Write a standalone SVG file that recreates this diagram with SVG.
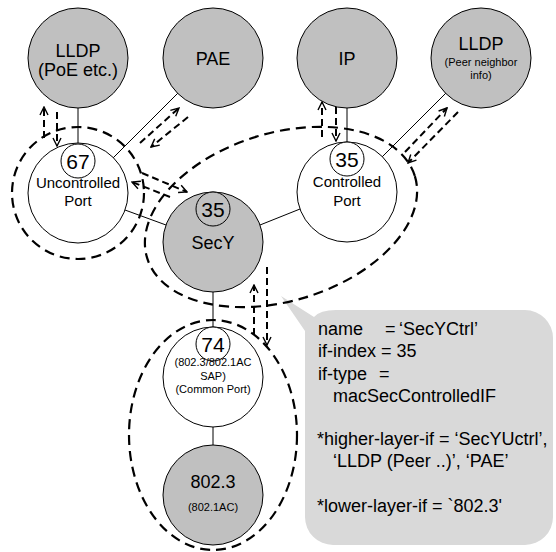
<svg xmlns="http://www.w3.org/2000/svg" width="556" height="552" viewBox="0 0 556 552">
<style>
.n{fill:#c0c0c0;stroke:#000;stroke-width:1}
.w{fill:#fff;stroke:#000;stroke-width:1}
.t{font-family:"Liberation Sans",Arial,sans-serif;fill:#000;text-anchor:middle}
.c{font-family:"Liberation Sans",Arial,sans-serif;fill:#000;font-size:18px}
.ln{stroke:#000;stroke-width:1;fill:none}
.de{stroke:#000;stroke-width:2.2;fill:none;stroke-dasharray:10 6}
.da{stroke:#000;stroke-width:2;fill:none;stroke-dasharray:7 4;marker-end:url(#ah)}
</style>
<defs>
<marker id="ah" viewBox="0 0 10 10" refX="9" refY="5" markerWidth="10" markerHeight="10" markerUnits="userSpaceOnUse" orient="auto">
<path d="M1,1 L9,5 L1,9" fill="none" stroke="#000" stroke-width="1.4"/>
</marker>
</defs>
<rect width="556" height="552" fill="#fff"/>
<g id="callout">
<path d="M281,296 L314,317 Q320,310 336,310 L525,310 A28,28 0 0 1 553,338 L553,517 A28,28 0 0 1 525,545 L333,545 A28,28 0 0 1 305,517 L305,331 Z" fill="#d9d9d9"/>
<text class="c" y="335"><tspan x="318">name</tspan><tspan x="385">=</tspan><tspan x="399">‘SecYCtrl’</tspan></text>
<text class="c" x="318" y="357">if-index = 35</text>
<text class="c" y="380"><tspan x="318">if-type</tspan><tspan x="379">=</tspan></text>
<text class="c" x="333" y="402">macSecControlledIF</text>
<text class="c" x="317" y="445">*higher-layer-if = ‘SecYUctrl’,</text>
<text class="c" x="333" y="467">‘LLDP (Peer ..)’, ‘PAE’</text>
<text class="c" x="317" y="512">*lower-layer-if = `802.3'</text>
</g>
<g id="connectors">
<line class="ln" x1="78" y1="108" x2="78" y2="144"/>
<line class="ln" x1="178" y1="93" x2="113" y2="158"/>
<line class="ln" x1="347" y1="108" x2="347" y2="142"/>
<line class="ln" x1="446" y1="93" x2="382" y2="157"/>
<line class="ln" x1="125" y1="210" x2="166" y2="225"/>
<line class="ln" x1="260" y1="225" x2="300" y2="209"/>
<line class="ln" x1="213" y1="292" x2="213" y2="327"/>
<line class="ln" x1="213" y1="427" x2="213" y2="445"/>
<ellipse class="de" cx="78" cy="193" rx="66" ry="66"/>
<ellipse class="de" cx="281" cy="217" rx="140" ry="84" transform="rotate(-17 281 217)"/>
<ellipse class="de" cx="213" cy="435" rx="84" ry="115"/>
<line class="da" x1="44" y1="138" x2="44" y2="107"/>
<line class="da" x1="57" y1="112" x2="57" y2="146"/>
<line class="da" x1="140" y1="143" x2="179" y2="108"/>
<line class="da" x1="188" y1="117" x2="151" y2="147"/>
<line class="da" x1="322" y1="137" x2="322" y2="102"/>
<line class="da" x1="336" y1="107" x2="336" y2="141"/>
<line class="da" x1="405" y1="152" x2="447" y2="108"/>
<line class="da" x1="458" y1="112" x2="408" y2="163"/>
<line class="da" x1="142" y1="173" x2="187" y2="192"/>
<line class="da" x1="170" y1="197" x2="132" y2="182"/>
<line class="da" x1="254" y1="335" x2="254" y2="285"/>
<line class="da" x1="267" y1="267" x2="267" y2="345"/>
</g>
<g id="lldp-poe">
<circle class="n" cx="78" cy="58" r="50"/>
<text class="t" x="78" y="57" font-size="18">LLDP</text>
<text class="t" x="78" y="76" font-size="18">(PoE etc.)</text>
</g>
<g id="pae">
<circle class="n" cx="213" cy="58" r="50"/>
<text class="t" x="213" y="65" font-size="18">PAE</text>
</g>
<g id="ip">
<circle class="n" cx="347" cy="58" r="50"/>
<text class="t" x="347" y="65" font-size="18">IP</text>
</g>
<g id="lldp-peer">
<circle class="n" cx="481" cy="58" r="50"/>
<text class="t" x="481" y="50" font-size="18">LLDP</text>
<text class="t" x="481" y="66" font-size="11">(Peer neighbor</text>
<text class="t" x="481" y="79" font-size="11">info)</text>
</g>
<g id="uncontrolled-port">
<circle class="w" cx="78" cy="193" r="50"/>
<circle class="w" cx="78" cy="161" r="17"/>
<text class="t" x="78" y="168.5" font-size="21">67</text>
<text class="t" x="78" y="188" font-size="15">Uncontrolled</text>
<text class="t" x="78" y="206" font-size="15">Port</text>
</g>
<g id="controlled-port">
<circle class="w" cx="347" cy="192" r="50"/>
<circle class="w" cx="347" cy="159" r="17"/>
<text class="t" x="347" y="166.5" font-size="21">35</text>
<text class="t" x="347" y="187" font-size="15">Controlled</text>
<text class="t" x="347" y="206" font-size="15">Port</text>
</g>
<g id="secy">
<circle class="n" cx="213" cy="242" r="50"/>
<circle class="n" cx="213" cy="209" r="17"/>
<text class="t" x="213" y="216.5" font-size="21">35</text>
<text class="t" x="213" y="249" font-size="18">SecY</text>
</g>
<g id="common-port">
<circle class="w" cx="213" cy="377" r="50"/>
<circle class="w" cx="213" cy="344" r="17"/>
<text class="t" x="213" y="351.5" font-size="21">74</text>
<text class="t" x="213" y="366" font-size="11">(802.3/802.1AC</text>
<text class="t" x="213" y="380" font-size="11">SAP)</text>
<text class="t" x="213" y="393" font-size="11">(Common Port)</text>
</g>
<g id="phy-802-3">
<circle class="n" cx="213" cy="495" r="50"/>
<text class="t" x="213" y="488" font-size="18">802.3</text>
<text class="t" x="213" y="511" font-size="11">(802.1AC)</text>
</g>
</svg>
